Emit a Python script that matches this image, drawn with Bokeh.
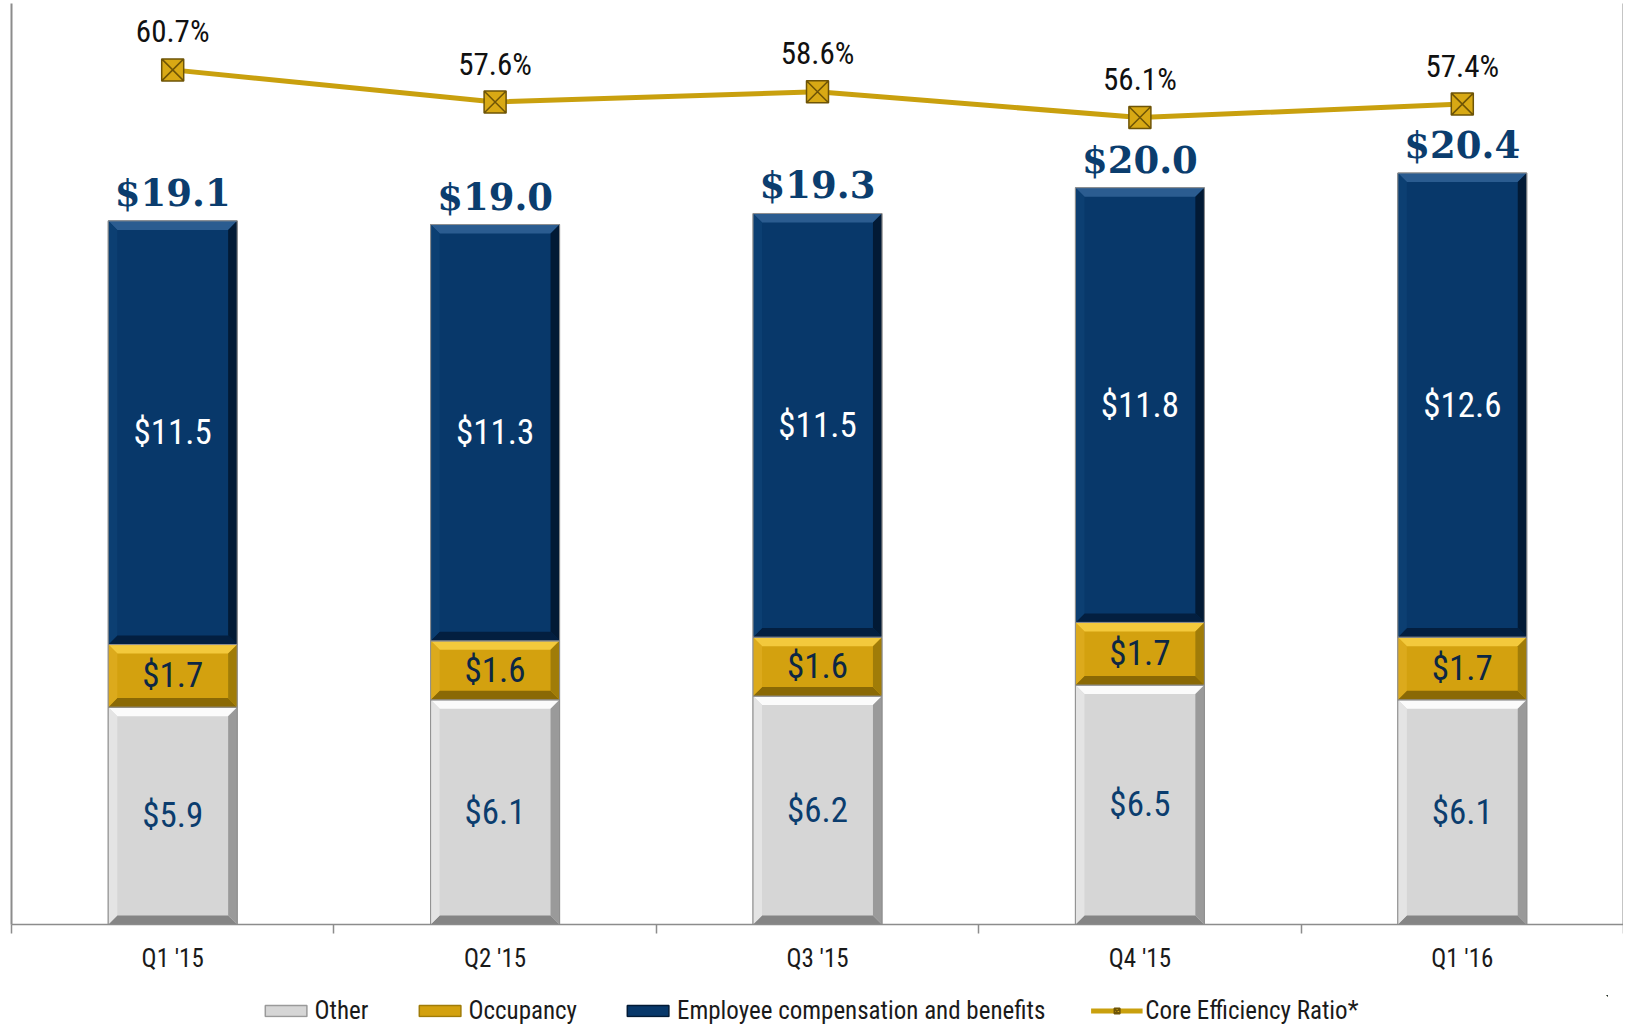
import numpy as np
from bokeh.plotting import figure
from bokeh.layouts import column
from bokeh.models import (ColumnDataSource, Range1d, LinearAxis, FixedTicker,
                          Legend, LegendItem, LabelSet)
from bokeh.core.properties import value
from bokeh.embed import file_html
from bokeh.resources import INLINE

# ---------------- data ----------------
categories = ["Q1 '15", "Q2 '15", "Q3 '15", "Q4 '15", "Q1 '16"]
other = [5.9, 6.1, 6.2, 6.5, 6.1]
occupancy = [1.7, 1.6, 1.6, 1.7, 1.7]
employee = [11.5, 11.3, 11.5, 11.8, 12.6]
totals = [19.1, 19.0, 19.3, 20.0, 20.4]
efficiency = [60.7, 57.6, 58.6, 56.1, 57.4]
series_names = ["Other", "Occupancy", "Employee compensation and benefits"]
line_name = "Core Efficiency Ratio*"

NARROW = "'Liberation Sans Narrow', 'Arial Narrow', 'Roboto Condensed', 'Liberation Sans', sans-serif"

# ---------------- derived ----------------
n = len(categories)
x = np.arange(n) + 0.5
o = np.array(other)
oc = np.array(occupancy)
e = np.array(employee)
bottoms = [np.zeros(n), o, o + oc]
tops = [o, o + oc, o + oc + e]

BAR_W = 0.40
LINE_COLOR = "#c9a00e"
MARKER_FILL = "#d8a914"
MARKER_EDGE = "#6e5406"

styles = [
    # base, top bevel, bottom bevel, left bevel, right bevel
    dict(base="#d6d6d6", top="#fbfbfb", bottom="#858585", left="#e4e4e4", right="#9a9a9a"),
    dict(base="#d3a10f", top="#f3c93c", bottom="#8a6905", left="#dcaa1c", right="#a07c08"),
    dict(base="#08386a", top="#2b5c90", bottom="#031f40", left="#0c3f72", right="#021a35"),
]

p = figure(frame_width=1612, frame_height=921, output_backend="svg",
           toolbar_location=None, x_range=Range1d(0, n), y_range=Range1d(0, 25.0),
           min_border_left=11, min_border_right=0, min_border_top=3, min_border_bottom=0,
           background_fill_color="white", border_fill_color="white")
p.outline_line_color = None
p.grid.visible = False
p.extra_y_ranges = {"eff": Range1d(-21.7, 67.1)}

# axes
p.yaxis.ticker = FixedTicker(ticks=[])
p.yaxis.axis_line_color = "#8c8c8c"
p.yaxis.axis_line_width = 2
p.yaxis.major_tick_line_color = None
p.yaxis.minor_tick_line_color = None
p.yaxis.major_label_text_font_size = "0px"

raxis = LinearAxis(y_range_name="eff", ticker=FixedTicker(ticks=[]))
raxis.axis_line_color = "#8c8c8c"
raxis.axis_line_width = 2
raxis.major_tick_line_color = None
raxis.minor_tick_line_color = None
raxis.major_label_text_font_size = "0px"
p.add_layout(raxis, "right")

xa = p.xaxis[0]
xa.ticker = FixedTicker(ticks=list(x), minor_ticks=list(range(n + 1)))
xa.major_label_overrides = {float(xi): c for xi, c in zip(x, categories)}
xa.axis_line_color = "#8c8c8c"
xa.axis_line_width = 1.5
xa.major_tick_in = 0
xa.major_tick_out = 0
xa.minor_tick_in = 0
xa.minor_tick_out = 9
xa.minor_tick_line_color = "#8c8c8c"
xa.minor_tick_line_width = 1.5
xa.major_label_text_font = NARROW
xa.major_label_text_font_size = "25px"
xa.major_label_text_color = "#1a1a1a"
xa.major_label_standoff = 10
xa.axis_label_standoff = 0

# stacked bars with bevel
bx = 0.028
by = 0.245
bar_sources = []
for i in range(3):
    st = styles[i]
    src = ColumnDataSource(dict(x=x, bottom=bottoms[i], top=tops[i]))
    bar_sources.append(src)
    p.vbar(x="x", bottom="bottom", top="top", width=BAR_W, source=src,
           fill_color=st["base"], line_color="#8f8f8f", line_width=1)
    x0 = x - BAR_W / 2
    x1 = x + BAR_W / 2
    y0 = bottoms[i]
    y1 = tops[i]
    for part in ["top", "bottom", "left", "right"]:
        xs, ys = [], []
        for k in range(n):
            a, b, c, d = x0[k], x1[k], y0[k], y1[k]
            if part == "top":
                xs.append([a, b, b - bx, a + bx]); ys.append([d, d, d - by, d - by])
            elif part == "bottom":
                xs.append([a, b, b - bx, a + bx]); ys.append([c, c, c + by, c + by])
            elif part == "left":
                xs.append([a, a + bx, a + bx, a]); ys.append([c, c + by, d - by, d])
            else:
                xs.append([b, b - bx, b - bx, b]); ys.append([c, c + by, d - by, d])
        p.patches(xs, ys, fill_color=st[part], line_color=None)
    p.vbar(x="x", bottom="bottom", top="top", width=BAR_W, source=src,
           fill_color=None, line_color="#8f8f8f", line_width=1)

# segment labels
seg_colors = ["#0b3d6e", "#0c2744", "white"]
seg_vals = [other, occupancy, employee]
for i in range(3):
    mid = (bottoms[i] + tops[i]) / 2
    src = ColumnDataSource(dict(x=x, y=mid, t=["$%.1f" % v for v in seg_vals[i]]))
    p.add_layout(LabelSet(x="x", y="y", text="t", source=src, text_align="center",
                          text_baseline="middle", text_font=value(NARROW),
                          text_font_size="35px", text_color=seg_colors[i]))

# totals
tsrc = ColumnDataSource(dict(x=x, y=tops[2], t=["$%.1f" % v for v in totals]))
p.add_layout(LabelSet(x="x", y="y", text="t", source=tsrc, text_align="center",
                      text_baseline="alphabetic", y_offset=15,
                      text_font=value("DejaVu Serif"), text_font_style="bold",
                      text_font_size="37px", text_color="#0b3d6e"))

# efficiency line
lsrc = ColumnDataSource(dict(x=x, y=efficiency, t=["%.1f%%" % v for v in efficiency]))
p.line(x="x", y="y", source=lsrc, y_range_name="eff", line_color=LINE_COLOR, line_width=5)
p.scatter(x="x", y="y", source=lsrc, y_range_name="eff", marker="square_x", size=22,
          fill_color=MARKER_FILL, line_color=MARKER_EDGE, line_width=1.5)
p.add_layout(LabelSet(x="x", y="y", text="t", source=lsrc, y_range_name="eff",
                      text_align="center", text_baseline="middle", y_offset=38,
                      text_font=value(NARROW), text_font_size="31px", text_color="#111111"))

# ---------------- legend strip (separate figure) ----------------
# Same data drawn again, but the view ranges sit away from the data so only
# the legend's glyph swatches are visible.
q = figure(width=1627, height=50, output_backend="svg", toolbar_location=None,
           x_axis_type=None, y_axis_type=None,
           x_range=Range1d(-3, -2), y_range=Range1d(-3, -2),
           min_border_left=0, min_border_right=20, min_border_top=20, min_border_bottom=0,
           background_fill_color="white", border_fill_color="white")
q.outline_line_color = None
q.grid.visible = False
leg_r = []
for i in range(3):
    leg_r.append(q.vbar(x="x", bottom="bottom", top="top", width=BAR_W, source=bar_sources[i],
                        fill_color=styles[i]["base"], line_color=styles[i]["right"],
                        line_width=1.5))
ql = q.line(x="x", y="y", source=lsrc, line_color=LINE_COLOR, line_width=5)
qm = q.scatter(x="x", y="y", source=lsrc, marker="square_x", size=20,
               fill_color=MARKER_FILL, line_color=MARKER_EDGE, line_width=1.5)

legend = Legend(items=[
    LegendItem(label=series_names[0], renderers=[leg_r[0]]),
    LegendItem(label=series_names[1], renderers=[leg_r[1]]),
    LegendItem(label=series_names[2], renderers=[leg_r[2]]),
    LegendItem(label=line_name, renderers=[ql, qm]),
], orientation="horizontal", location="center")
legend.label_text_font = NARROW
legend.label_text_font_size = "25px"
legend.label_text_color = "#1a1a1a"
legend.label_height = 24
legend.glyph_width = 52
legend.glyph_height = 14
legend.label_standoff = 3
legend.spacing = 45
legend.padding = 0
legend.margin = 0
legend.border_line_color = None
legend.background_fill_alpha = 0
q.add_layout(legend)

layout = column(p, q, spacing=0)
open("out.html", "w").write(file_html(layout, INLINE))
